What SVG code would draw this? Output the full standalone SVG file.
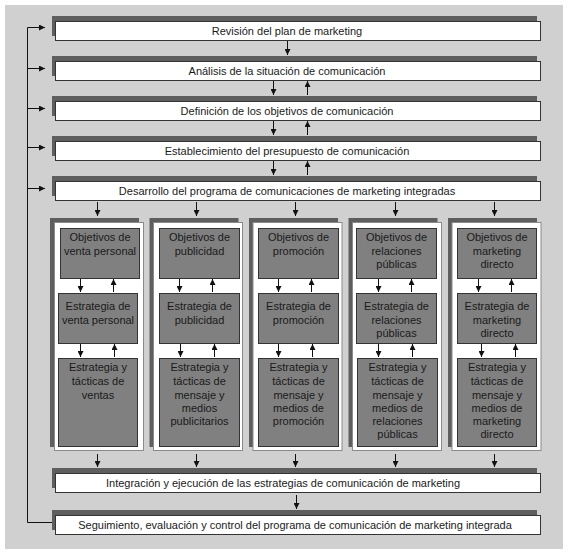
<svg xmlns="http://www.w3.org/2000/svg" width="568" height="554" viewBox="0 0 568 554">
<style>
.bg{fill:#d0d0d0}
.sh{fill:#5e5e5e}
.wb{fill:#ffffff;stroke:#333;stroke-width:1}
.wp{fill:#ffffff;stroke:#8a8a8a;stroke-width:1}
.ib{fill:#808080;stroke:#333;stroke-width:1}
.t{font-family:"Liberation Sans",Arial,sans-serif;font-size:11px;fill:#1a1a1a;text-anchor:middle}
.ln{stroke:#111;stroke-width:1;fill:none}
.ar{stroke:#111;stroke-width:1;fill:none;marker-end:url(#ah)}
</style>
<defs>
<marker id="ah" viewBox="0 0 6 6" refX="6" refY="3" markerWidth="6" markerHeight="6" markerUnits="userSpaceOnUse" orient="auto">
<path d="M0,0 L6,3 L0,6 Z" fill="#111"/>
</marker>
</defs>
<rect class="bg" x="5" y="5" width="558" height="544"/>

<g id="n1"><rect class="sh" x="52" y="16" width="485" height="20"/><rect class="wb" x="55.5" y="21.5" width="485" height="19"/><text class="t" x="287" y="35">Revisión del plan de marketing</text></g>
<g id="n2"><rect class="sh" x="52" y="56" width="485" height="20"/><rect class="wb" x="55.5" y="61.5" width="485" height="19"/><text class="t" x="287" y="75">Análisis de la situación de comunicación</text></g>
<g id="n3"><rect class="sh" x="52" y="96" width="485" height="20"/><rect class="wb" x="55.5" y="101.5" width="485" height="19"/><text class="t" x="287" y="115">Definición de los objetivos de comunicación</text></g>
<g id="n4"><rect class="sh" x="52" y="136" width="485" height="20"/><rect class="wb" x="55.5" y="141.5" width="485" height="19"/><text class="t" x="287" y="155">Establecimiento del presupuesto de comunicación</text></g>
<g id="n5"><rect class="sh" x="52" y="176" width="485" height="20"/><rect class="wb" x="55.5" y="181.5" width="485" height="19"/><text class="t" x="287" y="195">Desarrollo del programa de comunicaciones de marketing integradas</text></g>

<g id="col1">
<rect class="sh" x="50" y="218" width="89" height="229"/><rect class="wp" x="54.5" y="222.5" width="89" height="228"/>
<g id="c1a"><rect class="ib" x="60.5" y="228.5" width="79" height="50"/><text class="t" x="100" y="241">Objetivos de</text><text class="t" x="100" y="255">venta personal</text></g>
<g id="c1b"><rect class="ib" x="58.5" y="293.5" width="79" height="50"/><text class="t" x="98" y="310">Estrategia de</text><text class="t" x="98" y="324">venta personal</text></g>
<g id="c1c"><rect class="ib" x="58.5" y="358.5" width="79" height="88"/><text class="t" x="98" y="371">Estrategia y</text><text class="t" x="98" y="385">tácticas de</text><text class="t" x="98" y="399">ventas</text></g>
</g>
<g id="col2">
<rect class="sh" x="149.5" y="218" width="89" height="229"/><rect class="wp" x="153.5" y="222.5" width="89" height="228"/>
<g id="c2a"><rect class="ib" x="159.5" y="228.5" width="80" height="50"/><text class="t" x="199.5" y="241">Objetivos de</text><text class="t" x="199.5" y="255">publicidad</text></g>
<g id="c2b"><rect class="ib" x="159.5" y="293.5" width="80" height="50"/><text class="t" x="199.5" y="310">Estrategia de</text><text class="t" x="199.5" y="324">publicidad</text></g>
<g id="c2c"><rect class="ib" x="159.5" y="358.5" width="80" height="88"/><text class="t" x="199.5" y="371">Estrategia y</text><text class="t" x="199.5" y="385">tácticas de</text><text class="t" x="199.5" y="399">mensaje y</text><text class="t" x="199.5" y="412">medios</text><text class="t" x="199.5" y="425">publicitarios</text></g>
</g>
<g id="col3">
<rect class="sh" x="249" y="218" width="89" height="229"/><rect class="wp" x="253" y="222.5" width="89" height="228"/>
<g id="c3a"><rect class="ib" x="258.5" y="228.5" width="80" height="50"/><text class="t" x="298.5" y="241">Objetivos de</text><text class="t" x="298.5" y="255">promoción</text></g>
<g id="c3b"><rect class="ib" x="258.5" y="293.5" width="80" height="50"/><text class="t" x="298.5" y="310">Estrategia de</text><text class="t" x="298.5" y="324">promoción</text></g>
<g id="c3c"><rect class="ib" x="258.5" y="358.5" width="80" height="88"/><text class="t" x="298.5" y="371">Estrategia y</text><text class="t" x="298.5" y="385">tácticas de</text><text class="t" x="298.5" y="399">mensaje y</text><text class="t" x="298.5" y="412">medios de</text><text class="t" x="298.5" y="425">promoción</text></g>
</g>
<g id="col4">
<rect class="sh" x="348.5" y="218" width="89" height="229"/><rect class="wp" x="352.5" y="222.5" width="89" height="228"/>
<g id="c4a"><rect class="ib" x="356.5" y="228.5" width="80" height="50"/><text class="t" x="396.5" y="241">Objetivos de</text><text class="t" x="396.5" y="255">relaciones</text><text class="t" x="396.5" y="268">públicas</text></g>
<g id="c4b"><rect class="ib" x="356.5" y="293.5" width="80" height="50"/><text class="t" x="396.5" y="310">Estrategia de</text><text class="t" x="396.5" y="324">relaciones</text><text class="t" x="396.5" y="337">públicas</text></g>
<g id="c4c"><rect class="ib" x="357.5" y="358.5" width="80" height="88"/><text class="t" x="397.5" y="371">Estrategia y</text><text class="t" x="397.5" y="385">tácticas de</text><text class="t" x="397.5" y="399">mensaje y</text><text class="t" x="397.5" y="412">medios de</text><text class="t" x="397.5" y="425">relaciones</text><text class="t" x="397.5" y="438">públicas</text></g>
</g>
<g id="col5">
<rect class="sh" x="448" y="218" width="89" height="229"/><rect class="wp" x="452" y="222.5" width="89" height="228"/>
<g id="c5a"><rect class="ib" x="457.5" y="228.5" width="79" height="50"/><text class="t" x="497" y="241">Objetivos de</text><text class="t" x="497" y="255">marketing</text><text class="t" x="497" y="268">directo</text></g>
<g id="c5b"><rect class="ib" x="457.5" y="293.5" width="79" height="50"/><text class="t" x="497" y="310">Estrategia de</text><text class="t" x="497" y="324">marketing</text><text class="t" x="497" y="337">directo</text></g>
<g id="c5c"><rect class="ib" x="457.5" y="358.5" width="79" height="88"/><text class="t" x="497" y="371">Estrategia y</text><text class="t" x="497" y="385">tácticas de</text><text class="t" x="497" y="399">mensaje y</text><text class="t" x="497" y="412">medios de</text><text class="t" x="497" y="425">marketing</text><text class="t" x="497" y="438">directo</text></g>
</g>

<g id="n6"><rect class="sh" x="52" y="468" width="485" height="20"/><rect class="wb" x="55.5" y="473.5" width="485" height="19"/><text class="t" x="283" y="487">Integración y ejecución de las estrategias de comunicación de marketing</text></g>
<g id="n7"><rect class="sh" x="52" y="510" width="485" height="20"/><rect class="wb" x="55.5" y="515.5" width="485" height="19"/><text class="t" x="295" y="529">Seguimiento, evaluación y control del programa de comunicación de marketing integrada</text></g>

<g id="connectors">
<path class="ln" d="M27.5 27.5 V522.5 H52"/>
<path class="ar" d="M27.5 27.5 H45"/>
<path class="ar" d="M27.5 68.5 H45"/>
<path class="ar" d="M27.5 108.5 H45"/>
<path class="ar" d="M27.5 147.5 H45"/>
<path class="ar" d="M27.5 188.5 H45"/>

<path class="ar" d="M287.5 41 V55"/>
<path class="ar" d="M273.5 81 V95"/><path class="ar" d="M307.5 95 V81"/>
<path class="ar" d="M273.5 121 V135"/><path class="ar" d="M307.5 135 V121"/>
<path class="ar" d="M273.5 161 V175"/><path class="ar" d="M307.5 175 V161"/>

<path class="ar" d="M97.5 202 V216"/>
<path class="ar" d="M196.5 202 V216"/>
<path class="ar" d="M295.5 202 V216"/>
<path class="ar" d="M395.5 202 V216"/>
<path class="ar" d="M494.5 202 V216"/>

<path class="ar" d="M80.5 279 V292"/><path class="ar" d="M113.5 292 V279"/>
<path class="ar" d="M80.5 344 V357"/><path class="ar" d="M114.5 357 V344"/>
<path class="ar" d="M179.5 279 V292"/><path class="ar" d="M212.5 292 V279"/>
<path class="ar" d="M180.5 344 V357"/><path class="ar" d="M214.5 357 V344"/>
<path class="ar" d="M278.5 279 V292"/><path class="ar" d="M311.5 292 V279"/>
<path class="ar" d="M278.5 344 V357"/><path class="ar" d="M312.5 357 V344"/>
<path class="ar" d="M378.5 279 V292"/><path class="ar" d="M411.5 292 V279"/>
<path class="ar" d="M378.5 344 V357"/><path class="ar" d="M412.5 357 V344"/>
<path class="ar" d="M478.5 279 V292"/><path class="ar" d="M511.5 292 V279"/>
<path class="ar" d="M481.5 344 V357"/><path class="ar" d="M515.5 357 V344"/>

<path class="ar" d="M97.5 454 V467"/>
<path class="ar" d="M196.5 454 V467"/>
<path class="ar" d="M295.5 454 V467"/>
<path class="ar" d="M395.5 454 V467"/>
<path class="ar" d="M494.5 454 V467"/>

<path class="ar" d="M296.5 495 V509"/>
</g>
</svg>
